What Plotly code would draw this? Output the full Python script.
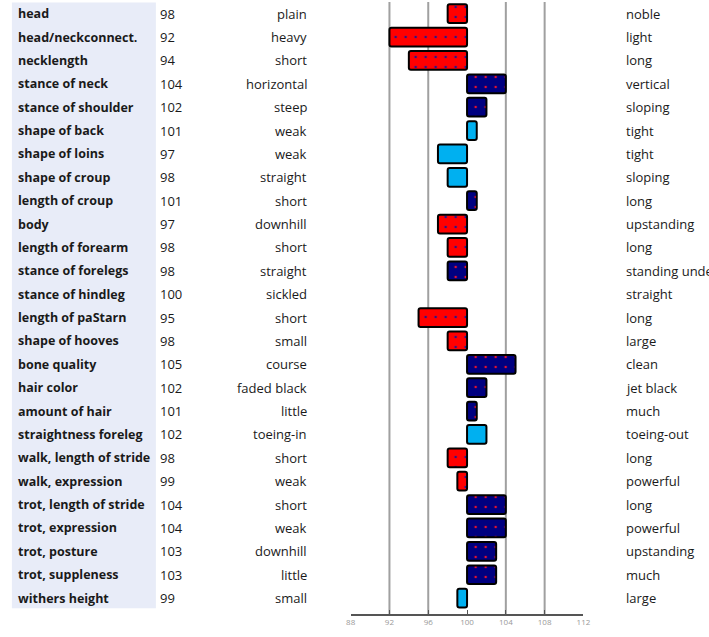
import plotly.graph_objects as go

traits = ["head", "head/neckconnect.", "necklength", "stance of neck", "stance of shoulder",
          "shape of back", "shape of loins", "shape of croup", "length of croup", "body",
          "length of forearm", "stance of forelegs", "stance of hindleg", "length of paStarn",
          "shape of hooves", "bone quality", "hair color", "amount of hair", "straightness foreleg",
          "walk, length of stride", "walk, expression", "trot, length of stride", "trot, expression",
          "trot, posture", "trot, suppleness", "withers height"]
values = [98, 92, 94, 104, 102, 101, 97, 98, 101, 97, 98, 98, 100, 95, 98, 105, 102, 101, 102,
          98, 99, 104, 104, 103, 103, 99]
low_desc = ["plain", "heavy", "short", "horizontal", "steep", "weak", "weak", "straight", "short",
            "downhill", "short", "straight", "sickled", "short", "small", "course", "faded black",
            "little", "toeing-in", "short", "weak", "short", "weak", "downhill", "little", "small"]
high_desc = ["noble", "light", "long", "vertical", "sloping", "tight", "tight", "sloping", "long",
             "upstanding", "long", "standing under", "straight", "long", "large", "clean", "jet black",
             "much", "toeing-out", "long", "powerful", "long", "powerful", "upstanding", "much", "large"]
# r = red, n = navy, b = light blue
groups = ["r", "r", "r", "n", "n", "b", "b", "b", "n", "r", "r", "n", "n", "r", "r", "n", "n",
          "n", "b", "r", "r", "n", "n", "n", "n", "b"]
tick_vals = [88, 92, 96, 100, 104, 108, 112]
grid_vals = [92, 96, 104, 108]
BASE = 100

W, H = 709, 637
fill = {"r": "#FF0000", "n": "#000080", "b": "#00B0F0"}
dot = {"r": "#1A1A9A", "n": "#E8102A", "b": "#00B0F0"}
shape = {"r": ".", "n": ".", "b": ""}

fig = go.Figure()
for g in ["r", "n", "b"]:
    idx = [i for i, gg in enumerate(groups) if gg == g and values[i] != BASE]
    fig.add_trace(go.Bar(
        y=idx, x=[values[i] - BASE for i in idx], base=BASE, orientation="h", width=0.8,
        marker=dict(color=fill[g],
                    line=dict(color="#000000", width=2),
                    pattern=dict(shape=shape[g], fgcolor=dot[g], bgcolor=fill[g],
                                 size=10, solidity=0.05, fillmode="replace"),
                    cornerradius=2),
        showlegend=False, hoverinfo="skip"))

font = "Open Sans"
bf = dict(family=font, size=12.5, color="#1a1a1a")
tf = dict(family=font, size=13, color="#1a1a1a")
ann = []
for i in range(len(traits)):
    ann.append(dict(x=11 / W, y=i, xref="paper", yref="y", text="<b>" + traits[i] + "</b>",
                    xanchor="left", showarrow=False, font=bf))
    ann.append(dict(x=156 / W, y=i, xref="paper", yref="y", text=str(values[i]),
                    xanchor="left", showarrow=False, font=tf))
    ann.append(dict(x=309 / W, y=i, xref="paper", yref="y", text=low_desc[i],
                    xanchor="right", showarrow=False, font=tf))
    ann.append(dict(x=630 / W, y=i, xref="paper", yref="y", text=high_desc[i],
                    xanchor="left", showarrow=False, font=tf))

shapes = [dict(type="rect", xref="paper", yref="y", x0=7 / W, x1=153.5 / W, y0=-0.48, y1=len(traits) - 0.57,
               fillcolor="#E8ECF8", line=dict(width=0), layer="below")]
for g in grid_vals:
    shapes.append(dict(type="line", xref="x", yref="paper", x0=g, x1=g, y0=0, y1=1,
                       line=dict(color="#A0A0A0", width=2), layer="below"))

fig.update_layout(
    width=W, height=H, margin=dict(l=0, r=0, t=2, b=23, pad=0),
    paper_bgcolor="white", plot_bgcolor="rgba(0,0,0,0)",
    annotations=ann, shapes=shapes, bargap=0.2, barmode="overlay",
    xaxis=dict(domain=[351.6 / W, 588.4 / W], range=[88, 112], tickvals=tick_vals,
               showgrid=False, zeroline=False, showline=True, linecolor="#555555", linewidth=1.5,
               ticks="inside", ticklen=4, tickcolor="#555555",
               tickfont=dict(family=font, size=8, color="#999999")),
    yaxis=dict(range=[25.68, -0.5], showgrid=False, zeroline=False, showticklabels=False,
               showline=False, ticks=""),
)
fig.write_html("out.html", config={"responsive": False, "displayModeBar": False})
with open("out.html", "r", encoding="utf-8") as f:
    html = f.read()
html = html.replace("<head>", "<head><style>html,body{margin:0;padding:0;overflow:hidden;}</style>", 1)
with open("out.html", "w", encoding="utf-8") as f:
    f.write(html)
